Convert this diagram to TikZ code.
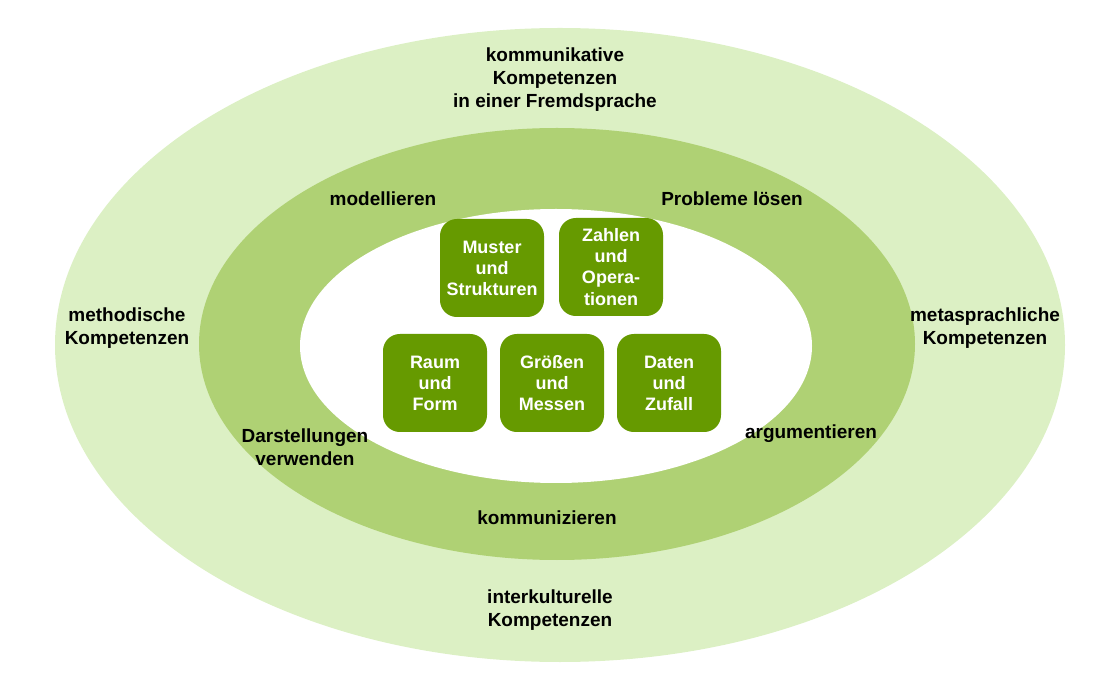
\documentclass[tikz,border=0pt]{standalone}
\usepackage{fontspec}
\setmainfont{Liberation Sans}
\definecolor{outerg}{HTML}{DCF0C4}
\definecolor{midg}{HTML}{AFD174}
\definecolor{boxg}{HTML}{669A00}
\begin{document}
\begin{tikzpicture}[x=0.025cm,y=-0.025cm,
  lbl/.style={font=\fontsize{13.5}{16.4}\selectfont\bfseries, align=center, text=black},
  kbox/.style={fill=boxg, rounded corners=12pt, minimum width=104*0.025cm, minimum height=98*0.025cm,
    font=\fontsize{12.8}{15}\selectfont\bfseries, text=white, align=center, inner sep=0pt}]
\useasboundingbox (0,0) rectangle (1112,694);
\fill[outerg] (560,345) ellipse [x radius=505*0.025cm, y radius=317*0.025cm];
\fill[midg] (557,344) ellipse [x radius=358*0.025cm, y radius=216*0.025cm];
\fill[white] (556,346) ellipse [x radius=256*0.025cm, y radius=137*0.025cm];

\node[kbox] (muster) at (492,268) {Muster\\und\\Strukturen};
\node[kbox] (zahlen) at (611,267) {Zahlen\\und\\Opera-\\tionen};
\node[kbox] (raum) at (435,383) {Raum\\und\\Form};
\node[kbox] (groessen) at (552,383) {Größen\\und\\Messen};
\node[kbox] (daten) at (669,383) {Daten\\und\\Zufall};

\node[lbl] (komm) at (555,80) {kommunikative\\Kompetenzen\\in einer Fremdsprache};
\node[lbl] (model) at (383,199) {modellieren};
\node[lbl] (probl) at (732,199) {Probleme lösen};
\node[lbl] (meth) at (127,328) {methodische\\Kompetenzen};
\node[lbl] (meta) at (985,328) {metasprachliche\\Kompetenzen};
\node[lbl] (darst) at (305,447) {Darstellungen\\verwenden};
\node[lbl] (argu) at (811,434) {argumentieren};
\node[lbl] (kommu) at (547,518) {kommunizieren};
\node[lbl] (inter) at (550,610) {interkulturelle\\Kompetenzen};
\end{tikzpicture}
\end{document}
